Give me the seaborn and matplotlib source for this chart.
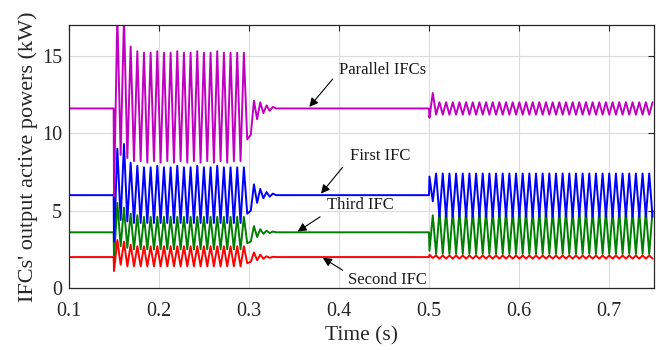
import numpy as np
import pandas as pd
import matplotlib
matplotlib.use("Agg")
import matplotlib.pyplot as plt
import seaborn as sns

# ---------------- data ----------------
series_names = ["Parallel IFCs", "First IFC", "Third IFC", "Second IFC"]
series_colors = ["#C000C0", "#0000FF", "#008000", "#FF0000"]

# steady-state levels (kW)
steady_levels = [11.6, 6.0, 3.6, 2.0]

# event times (s)
t_start = 0.10
t_fault = 0.150
t_clear = 0.302
t_load = 0.500
t_end = 0.75
osc_half_period = 0.0037      # half period of the oscillation (s)
damp_step = 0.0035            # spacing of damped swings after 0.3 s

# oscillation 0.15 - 0.30 s (alternating trough / peak values)
par_A = [5.9, 17.6, 8.6, 17.5, 8.4, 15.6, 8.2, 15.3, 8.2, 15.2, 8.1, 15.2, 8.2, 15.3,
         8.1, 15.2, 8.2, 15.2, 8.1, 15.3, 8.2, 15.2, 8.1, 15.2, 8.2, 15.3, 8.1, 15.2,
         8.2, 15.2, 8.1, 15.3, 8.2, 15.2, 8.1, 15.2, 8.2, 15.2, 8.2, 15.2, 9.6]
first_A = [3.0, 9.0, 4.4, 9.3, 4.3, 8.1, 4.2, 7.9, 4.2, 7.8, 4.2, 7.8, 4.2, 7.9,
           4.2, 7.8, 4.2, 7.8, 4.2, 7.9, 4.2, 7.8, 4.2, 7.8, 4.2, 7.9, 4.2, 7.8,
           4.2, 7.8, 4.2, 7.9, 4.2, 7.8, 4.2, 7.8, 4.2, 7.8, 4.2, 7.8, 4.8]
third_A = [1.8, 5.5, 2.7, 5.2, 2.6, 4.8, 2.5, 4.7, 2.5, 4.6, 2.5, 4.6, 2.5, 4.6,
           2.5, 4.6, 2.5, 4.6, 2.5, 4.6, 2.5, 4.6, 2.5, 4.6, 2.5, 4.6, 2.5, 4.6,
           2.5, 4.6, 2.5, 4.6, 2.5, 4.6, 2.5, 4.6, 2.5, 4.6, 2.5, 4.6, 2.9]
second_A = [1.1, 3.1, 1.5, 3.0, 1.4, 2.8, 1.4, 2.7, 1.4, 2.7, 1.4, 2.7, 1.4, 2.7,
            1.4, 2.7, 1.4, 2.7, 1.4, 2.7, 1.4, 2.7, 1.4, 2.7, 1.4, 2.7, 1.4, 2.7,
            1.4, 2.7, 1.4, 2.7, 1.4, 2.7, 1.4, 2.7, 1.4, 2.7, 1.4, 2.7, 1.6]

# damped swings after 0.30 s
par_C = [9.9, 12.1, 10.9, 12.0, 11.3, 11.8, 11.45, 11.7, 11.6]
first_C = [5.0, 6.7, 5.5, 6.4, 5.8, 6.2, 5.9, 6.1, 6.0]
third_C = [3.0, 4.0, 3.3, 3.8, 3.5, 3.7, 3.55, 3.65, 3.6]
second_C = [1.7, 2.3, 1.8, 2.15, 1.9, 2.05, 1.95, 2.02, 2.0]

# oscillation 0.50 - 0.75 s : peaks and troughs per cycle
par_B_hi = [12.6] + [12.0] * 33
par_B_lo = [11.0] + [11.2] * 33
first_B_hi = [7.2] + [7.4] * 33
first_B_lo = [5.6] + [4.6] * 33
third_B_hi = [4.7] + [5.0] * 33
third_B_lo = [2.4] + [2.2] * 33
second_B_hi = [2.15] + [2.1] * 33
second_B_lo = [1.95] + [1.9] * 33

# ---------------- build the long table ----------------
A_sets = [par_A, first_A, third_A, second_A]
C_sets = [par_C, first_C, third_C, second_C]
B_sets = [(par_B_lo, par_B_hi), (first_B_hi, first_B_lo),
          (third_B_lo, third_B_hi), (second_B_hi, second_B_lo)]

frames = []
for name, lvl, A, C, (b1, b2) in zip(series_names, steady_levels, A_sets, C_sets, B_sets):
    tA = t_fault + osc_half_period * np.arange(len(A))
    tC = t_clear + damp_step * np.arange(len(C))
    B = [v for pair in zip(b1, b2) for v in pair]
    tB = t_load + 0.0005 + osc_half_period * np.arange(len(B))
    keepB = tB <= t_end
    t = np.concatenate([[t_start, t_fault - 0.0004], tA, tC, [t_load], tB[keepB]])
    y = np.concatenate([[lvl, lvl], A, C, [lvl], np.array(B)[keepB]])
    frames.append(pd.DataFrame({"Time": t, "Power": y, "Signal": name}))
df = pd.concat(frames, ignore_index=True)

# ---------------- plotting ----------------
sns.set_theme(style="white")
plt.rcParams["font.family"] = ["Liberation Serif", "DejaVu Serif"]
plt.rcParams["mathtext.fontset"] = "stix"

fig = plt.figure(figsize=(6.72, 3.50), dpi=100)
ax = fig.add_axes([0.1027, 0.177, 0.8705, 0.752])

draw_order = ["Third IFC", "Second IFC", "First IFC", "Parallel IFCs"]
palette = dict(zip(series_names, series_colors))
for name in draw_order:
    sns.lineplot(data=df[df["Signal"] == name], x="Time", y="Power", color=palette[name],
                 estimator=None, sort=False, lw=1.4, ax=ax, legend=False)

ax.set_xlim(0.1, 0.75)
ax.set_ylim(0, 17)
ax.set_xticks([0.1, 0.2, 0.3, 0.4, 0.5, 0.6, 0.7])
ax.set_xticklabels(["0.1", "0.2", "0.3", "0.4", "0.5", "0.6", "0.7"])
ax.set_yticks([0, 5, 10, 15])
ax.grid(True, color="#DCDCDC", lw=0.8)
ax.set_axisbelow(True)
ax.tick_params(axis="both", which="both", direction="in", length=4, width=0.8,
               top=True, right=True, labelsize=14.5, colors="#262626")
ax.tick_params(axis="x", pad=10)
ax.tick_params(axis="y", pad=5)
for s in ax.spines.values():
    s.set_color("#262626")
    s.set_linewidth(0.9)
ax.set_xlabel("Time (s)", fontsize=15.5, labelpad=4)
ax.set_ylabel("IFCs' output active powers (kW)", fontsize=16, labelpad=3)

# annotations: (text x, text y, tail x, tail y, tip x, tip y)
labels = ["Parallel IFCs", "First IFC", "Third IFC", "Second IFC"]
label_pos = [(0.400, 14.1), (0.412, 8.5), (0.387, 5.35), (0.410, 0.5)]
arrow_tail = [(0.393, 13.5), (0.404, 7.8), (0.379, 4.6), (0.404, 1.15)]
arrow_tip = [(0.367, 11.7), (0.380, 6.1), (0.354, 3.65), (0.382, 1.95)]
for lab, (tx, ty), tail, tip in zip(labels, label_pos, arrow_tail, arrow_tip):
    ax.text(tx, ty, lab, fontsize=12, va="center", ha="left", color="#1a1a1a")
    ax.annotate("", xy=tip, xytext=tail,
                arrowprops=dict(arrowstyle="-|>", color="black", lw=0.8,
                                mutation_scale=13, shrinkA=0, shrinkB=0))

fig.savefig("out.png", dpi=100)
